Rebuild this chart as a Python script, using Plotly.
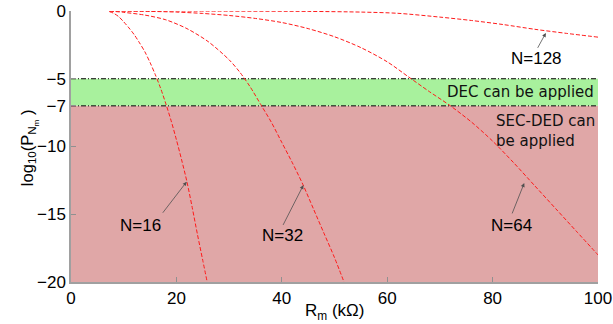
import plotly.graph_objects as go

# ---- data ----
r16 = [7.3, 8, 9, 10, 11, 12, 13, 14, 15, 16, 17, 18, 19, 20, 21, 22, 23, 24, 25, 26]
p16 = [-0.05, -0.15, -0.4, -0.8, -1.25, -1.75, -2.35, -3.0, -3.8, -4.7, -5.7, -6.85, -8.1, -9.5, -11.0, -12.6, -14.5, -16.5, -18.4, -20.3]

r32 = [7.3, 10, 14, 18, 22, 26, 30, 32, 34, 36, 38, 40, 42, 44, 46, 48, 50, 52]
p32 = [0.0, -0.1, -0.3, -0.65, -1.3, -2.25, -3.6, -4.5, -5.6, -6.9, -8.2, -9.7, -11.2, -12.8, -14.6, -16.4, -18.2, -20.2]

r64 = [7.3, 15, 20, 25, 30, 35, 40, 45, 50, 55, 60, 64, 68, 72, 76, 80, 84, 88, 92, 96, 100]
p64 = [0.0, -0.03, -0.08, -0.18, -0.33, -0.55, -0.85, -1.3, -1.9, -2.7, -3.75, -4.85, -5.95, -7.0, -8.2, -9.6, -11.2, -12.9, -14.6, -16.3, -18.0]

r128 = [7.3, 30, 45, 55, 62, 70, 76, 82, 88, 94, 100]
p128 = [0.0, -0.01, -0.03, -0.08, -0.17, -0.45, -0.7, -1.0, -1.35, -1.65, -1.93]

series_names = ["N=16", "N=32", "N=64", "N=128"]
dec_band = [-7, -5]
secded_band = [-20, -7]
x_ticks = [0, 20, 40, 60, 80, 100]
y_ticks = [0, -5, -7, -10, -15, -20]

# label text positions (data coords): text centre, arrow tail, arrow tip
labels = [
    ("N=16", 13.1, -15.8, 17.2, -15.0, 21.95, -12.6),
    ("N=32", 40.1, -16.6, 40.1, -15.9, 44.1, -12.85),
    ("N=64", 83.6, -15.8, 83.6, -15.05, 86.0, -12.7),
    ("N=128", 88.4, -3.5, 88.4, -2.83, 90.1, -1.62),
]

fig = go.Figure()

RED = "#ff1a1a"
for xs, ys, nm in [(r16, p16, series_names[0]), (r32, p32, series_names[1]),
                   (r64, p64, series_names[2]), (r128, p128, series_names[3])]:
    fig.add_trace(go.Scatter(x=xs, y=ys, mode="lines", name=nm, showlegend=False,
                             line=dict(color=RED, width=1, dash="4px,2px", shape="spline",
                                       smoothing=0.8)))

shapes = [
    dict(type="rect", xref="x", yref="y", x0=0, x1=100, y0=secded_band[0], y1=secded_band[1],
         fillcolor="#e0a7a7", line=dict(width=0), layer="below"),
    dict(type="rect", xref="x", yref="y", x0=0, x1=100, y0=dec_band[0], y1=dec_band[1],
         fillcolor="#a8f19d", line=dict(width=0), layer="below"),
    dict(type="line", xref="x", yref="y", x0=0, x1=100, y0=dec_band[1], y1=dec_band[1],
         line=dict(color="black", width=1, dash="5px,2px,1px,2px"), layer="below"),
    dict(type="line", xref="x", yref="y", x0=0, x1=100, y0=dec_band[0], y1=dec_band[0],
         line=dict(color="black", width=1, dash="5px,2px,1px,2px"), layer="below"),
]

annotations = []
for txt, tx, ty, ax, ay, hx, hy in labels:
    annotations.append(dict(x=tx, y=ty, xref="x", yref="y", text=txt, showarrow=False,
                            font=dict(family="Liberation Sans, Arial", size=17, color="black")))
    annotations.append(dict(x=hx, y=hy, xref="x", yref="y", ax=ax, ay=ay, axref="x", ayref="y",
                            text="", showarrow=True, arrowhead=2, arrowsize=1, arrowwidth=0.8,
                            arrowcolor="#505050", standoff=0, startstandoff=0))

annotations.append(dict(x=100, y=-6, xref="x", yref="y", text="DEC can be applied",
                        showarrow=False, xanchor="right", xshift=-2,
                        font=dict(family="DejaVu Sans", size=15, color="#111111")))
annotations.append(dict(x=80.3, y=-7.3, xref="x", yref="y", text="SEC-DED can<br>be applied",
                        showarrow=False, xanchor="left", yanchor="top", align="left",
                        font=dict(family="DejaVu Sans", size=15, color="#111111")))

# axis titles
annotations.append(dict(x=0.5, y=0, xref="paper", yref="paper", yshift=-30,
                        text="R<sub>m</sub> (kΩ)", showarrow=False,
                        xanchor="center", yanchor="middle",
                        font=dict(family="Liberation Sans, Arial", size=17, color="black")))
annotations.append(dict(x=0, y=0.494, xref="paper", yref="paper", xshift=-42,
                        text="log<sub>10</sub>(P<sub>N<sub>m</sub></sub> )", showarrow=False,
                        textangle=-90, xanchor="center", yanchor="middle",
                        font=dict(family="Liberation Sans, Arial", size=16.5, color="black")))

fig.update_layout(
    width=613, height=324,
    margin=dict(l=71, r=15, t=11, b=42),
    paper_bgcolor="white", plot_bgcolor="white",
    shapes=shapes, annotations=annotations,
    font=dict(family="Liberation Sans, Arial", size=17, color="black"),
    xaxis=dict(range=[0, 100], tickvals=x_ticks, ticks="inside", ticklen=5, tickcolor="#909090",
               showline=True, linecolor="#a0a0a0", linewidth=1.5, showgrid=False, zeroline=False,
               tickfont=dict(size=17), automargin=False),
    yaxis=dict(range=[-20, 0], tickvals=y_ticks, ticks="inside", ticklen=5, tickcolor="#909090",
               showline=True, linecolor="#a0a0a0", linewidth=1.5, showgrid=False, zeroline=False,
               tickfont=dict(size=17), automargin=False, ticklabeloverflow="allow"),
)

fig.write_html("out.html", config={"displayModeBar": False},
               post_script="document.body.style.margin='0';document.body.style.overflow='hidden';")
